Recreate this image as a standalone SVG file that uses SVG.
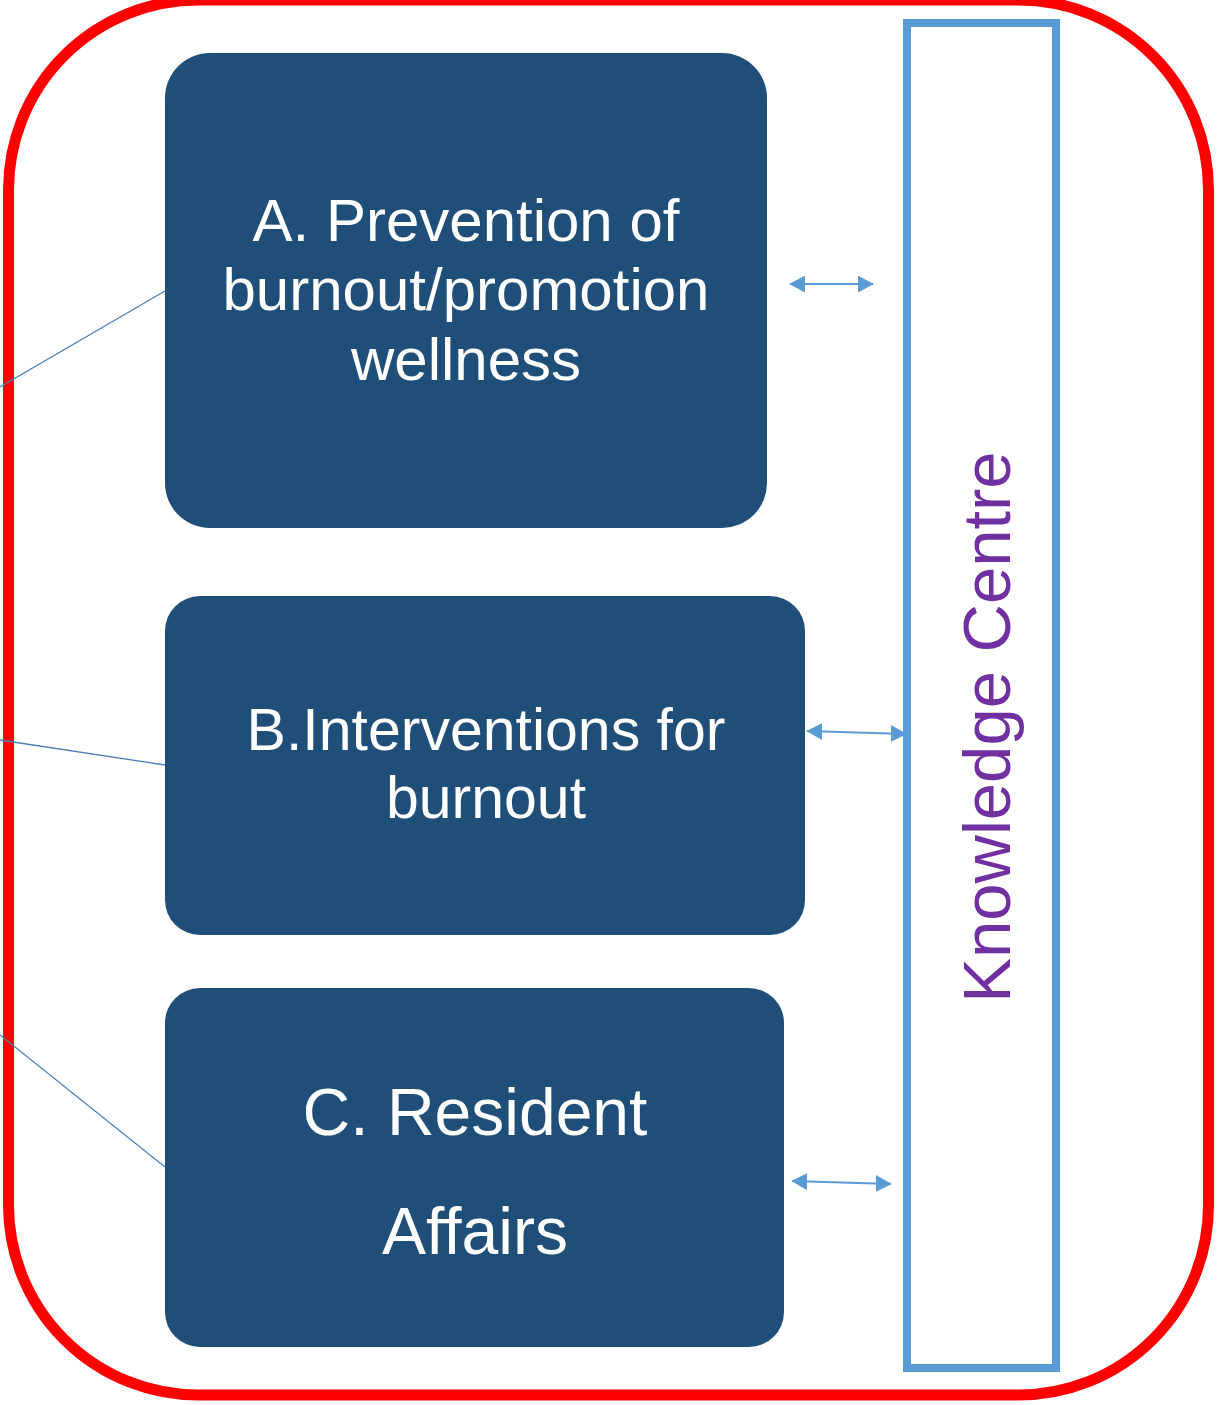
<svg xmlns="http://www.w3.org/2000/svg" width="1217" height="1405" viewBox="0 0 1217 1405">
<style>
.box{fill:#1F4E79}
.t{font-family:"Liberation Sans",Arial,sans-serif;fill:#fff;text-anchor:middle}
.conn{stroke:#4A7EBB;stroke-width:1.3;fill:none}
.arr{stroke:#5B9BD5;stroke-width:2;fill:none;marker-start:url(#ah);marker-end:url(#ah)}
</style>
<defs>
<marker id="ah" viewBox="0 0 10 10" refX="9.5" refY="5" markerWidth="16" markerHeight="17" markerUnits="userSpaceOnUse" orient="auto-start-reverse" preserveAspectRatio="none">
<path d="M0,0 L10,5 L0,10 z" fill="#5B9BD5"/>
</marker>
</defs>
<rect width="1217" height="1405" fill="#fff"/>
<g id="frame"><rect x="8.5" y="0" width="1200" height="1395" rx="190" ry="190" fill="none" stroke="#FF0000" stroke-width="11"/></g>
<g id="connectors">
<line class="conn" x1="0" y1="387" x2="165" y2="291"/>
<line class="conn" x1="0" y1="740" x2="165" y2="765"/>
<line class="conn" x1="0" y1="1035" x2="165" y2="1167"/>
<line class="arr" x1="790" y1="284" x2="873" y2="284"/>
<line class="arr" x1="807" y1="731" x2="906" y2="734"/>
<line class="arr" x1="792" y1="1181" x2="891" y2="1184"/>
</g>
<g id="nodeA"><rect class="box" x="165" y="53" width="602" height="475" rx="45"/>
<text class="t" font-size="60"><tspan x="466" y="241">A. Prevention of</tspan><tspan x="466" y="310">burnout/promotion</tspan><tspan x="466" y="380">wellness</tspan></text></g>
<g id="nodeB"><rect class="box" x="165" y="596" width="640" height="339" rx="35"/>
<text class="t" font-size="59"><tspan x="486" y="750">B.Interventions for</tspan><tspan x="486" y="818">burnout</tspan></text></g>
<g id="nodeC"><rect class="box" x="165" y="988" width="619" height="359" rx="35"/>
<text class="t" font-size="66"><tspan x="475" y="1135">C. Resident</tspan><tspan x="475" y="1254">Affairs</tspan></text></g>
<g id="knowledge"><rect x="907" y="23" width="149" height="1345" fill="none" stroke="#5B9BD5" stroke-width="8"/>
<text transform="translate(1010,727) rotate(-90)" font-family="Liberation Sans,Arial,sans-serif" font-size="67" fill="#7030A0" text-anchor="middle">Knowledge Centre</text></g>
</svg>
